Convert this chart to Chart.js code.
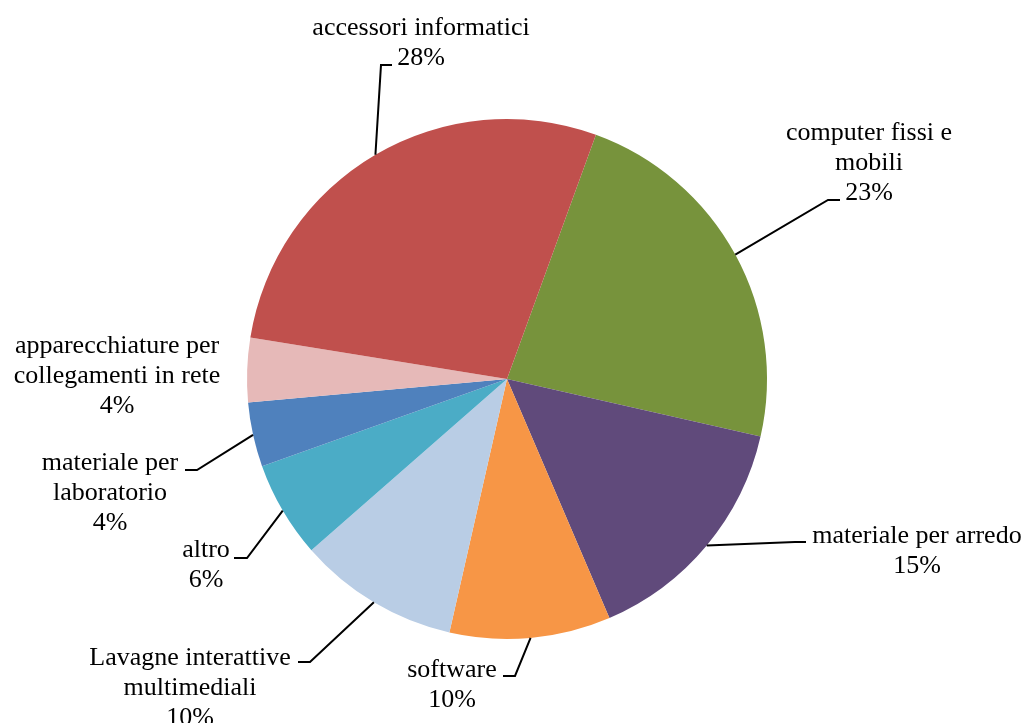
<!DOCTYPE html>
<html>
<head>
<meta charset="utf-8">
<title>Spese per categoria</title>
<script src="https://cdn.jsdelivr.net/npm/chart.js@4/dist/chart.umd.min.js"></script>
<style>
    html, body { margin: 0; padding: 0; background: #ffffff; }
    #chart-container { width: 1027px; height: 723px; }
</style>
</head>
<body>
<div id="chart-container"><canvas id="chart-spese"></canvas></div>
<script>
// Categories in drawing order (clockwise from the green slice)
const categories = [
    'computer fissi e mobili',
    'materiale per arredo',
    'software',
    'Lavagne interattive multimediali',
    'altro',
    'materiale per laboratorio',
    'apparecchiature per collegamenti in rete',
    'accessori informatici'
];
const shares = [23, 15, 10, 10, 6, 4, 4, 28];

// How each category name wraps in its label
const labelLines = [
    ['computer fissi e', 'mobili'],
    ['materiale per arredo'],
    ['software'],
    ['Lavagne interattive', 'multimediali'],
    ['altro'],
    ['materiale per', 'laboratorio'],
    ['apparecchiature per', 'collegamenti in rete'],
    ['accessori informatici']
];

const sliceColors = ['#77933C', '#604A7B', '#F79646', '#B9CDE5', '#4BACC6', '#4F81BD', '#E6B9B8', '#C0504D'];

// Label placement: text centre x, first baseline y, leader elbow and end
const labelLayout = [
    { x: 869, y: 140, elbow: [828, 200], end: [840, 200] },
    { x: 917, y: 543, elbow: [795, 542], end: [806, 542] },
    { x: 452, y: 677, elbow: [515, 676], end: [503, 676] },
    { x: 190, y: 665, elbow: [310, 662], end: [298, 662] },
    { x: 206, y: 557, elbow: [247, 558], end: [234, 558] },
    { x: 110, y: 470, elbow: [197, 470], end: [185, 470] },
    { x: 117, y: 353, elbow: null, end: null },
    { x: 421, y: 35, elbow: [381, 65], end: [392, 65] }
];

const LINE_HEIGHT = 30;
const LABEL_FONT = '26px "Liberation Serif", "Times New Roman", serif';

// Draws category labels with percentages and leader lines
const pieLabels = {
    id: 'pieLabels',
    afterDatasetsDraw(chart) {
        const ctx = chart.ctx;
        const meta = chart.getDatasetMeta(0);
        const values = chart.data.datasets[0].data;
        const total = values.reduce((a, b) => a + b, 0);

        ctx.save();
        ctx.font = LABEL_FONT;
        ctx.fillStyle = '#000000';
        ctx.strokeStyle = '#000000';
        ctx.lineWidth = 2;
        ctx.textAlign = 'center';
        ctx.textBaseline = 'alphabetic';

        meta.data.forEach((arc, i) => {
            const p = arc.getProps(['x', 'y', 'startAngle', 'endAngle', 'outerRadius'], true);
            const mid = (p.startAngle + p.endAngle) / 2;
            const layout = labelLayout[i];

            if (layout.elbow) {
                const ax = p.x + Math.cos(mid) * p.outerRadius;
                const ay = p.y + Math.sin(mid) * p.outerRadius;
                ctx.beginPath();
                ctx.moveTo(ax, ay);
                ctx.lineTo(layout.elbow[0], layout.elbow[1]);
                ctx.lineTo(layout.end[0], layout.end[1]);
                ctx.stroke();
            }

            const pct = Math.round(values[i] / total * 100) + '%';
            const lines = labelLines[i].concat([pct]);
            lines.forEach((line, k) => {
                ctx.fillText(line, layout.x, layout.y + k * LINE_HEIGHT);
            });
        });
        ctx.restore();
    }
};

const ctx = document.getElementById('chart-spese').getContext('2d');
const chart = new Chart(ctx, {
    type: 'pie',
    data: {
        labels: categories,
        datasets: [{
            data: shares,
            backgroundColor: sliceColors,
            borderWidth: 0,
            hoverOffset: 0,
            offset: 0
        }]
    },
    options: {
        responsive: true,
        maintainAspectRatio: false,
        animation: false,
        rotation: 20,
        events: [],
        layout: {
            padding: { left: 247, right: 260, top: 119, bottom: 84 }
        },
        plugins: {
            legend: { display: false },
            tooltip: { enabled: false }
        }
    },
    plugins: [pieLabels]
});
</script>
</body>
</html>
